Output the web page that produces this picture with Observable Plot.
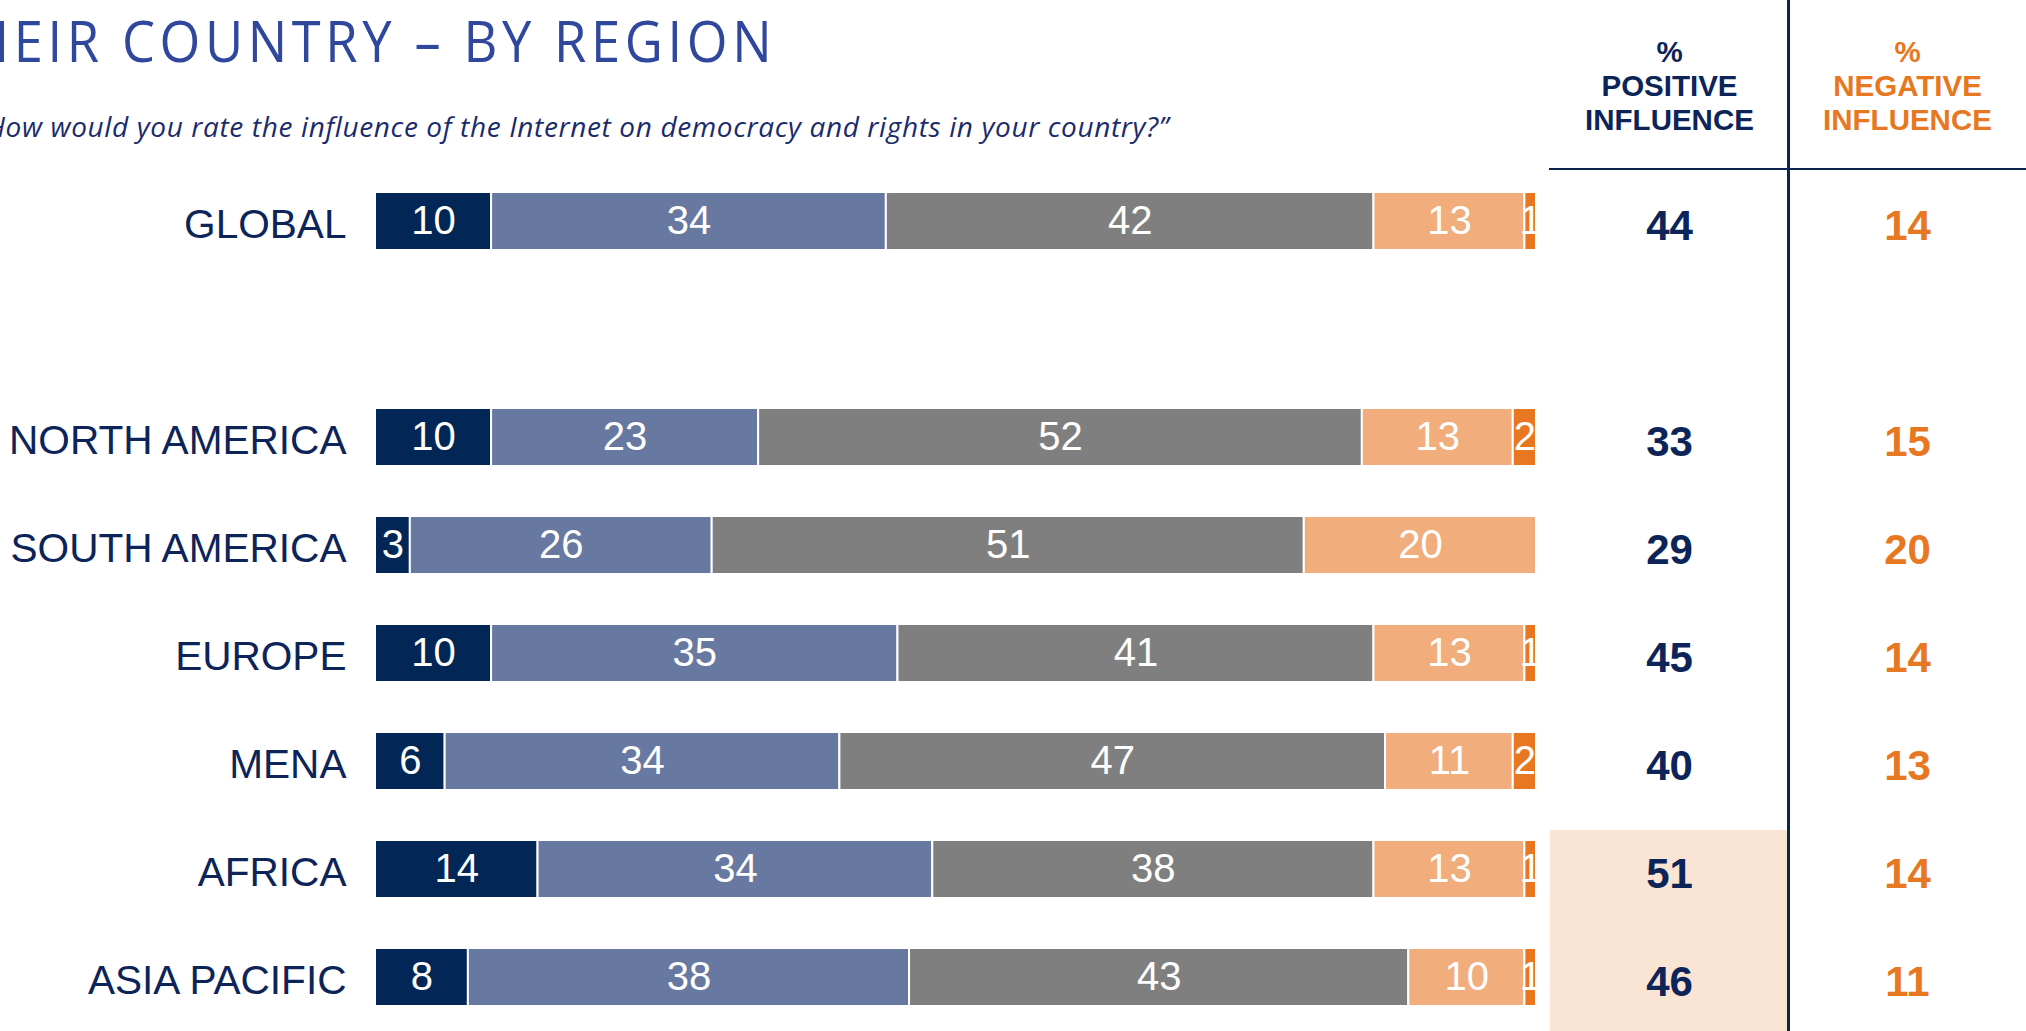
<!DOCTYPE html>
<html><head><meta charset="utf-8">
<script src="https://cdn.jsdelivr.net/npm/d3@7"></script>
<script src="https://cdn.jsdelivr.net/npm/@observablehq/plot@0.6"></script>
<style>
html,body{margin:0;padding:0;background:#fff;overflow:hidden}
#root{position:relative;width:2026px;height:1031px;overflow:hidden;background:#fff}
.abs{position:absolute}
#title{right:1250px;top:12px;font-family:"Open Sans",sans-serif;font-size:57px;line-height:57px;color:#2f479c;white-space:nowrap;letter-spacing:5.0px;transform:scaleX(0.92);transform-origin:100% 50%}
#subtitle{right:857px;top:112px;font-family:"Open Sans",sans-serif;font-style:italic;font-size:28px;line-height:28px;color:#1a2b6b;white-space:nowrap;letter-spacing:0.63px}
#hline{left:1549px;top:168px;width:477px;height:2px;background:#0d2350}
#vline{left:1787px;top:0;width:3px;height:1031px;background:#0d2350}
</style></head>
<body><div id="root">
<div id="title" class="abs">THEIR COUNTRY – BY REGION</div>
<div id="subtitle" class="abs">“How would you rate the influence of the Internet on democracy and rights in your country?”</div>
</div>
<script>
const regions = ["GLOBAL","NORTH AMERICA","SOUTH AMERICA","EUROPE","MENA","AFRICA","ASIA PACIFIC"];
const series = ["Very positive","Somewhat positive","No influence","Somewhat negative","Very negative"];
const veryPositive     = [10,10, 3,10, 6,14, 8];
const somewhatPositive = [34,23,26,35,34,34,38];
const noInfluence      = [42,52,51,41,47,38,43];
const somewhatNegative = [13,13,20,13,11,13,10];
const veryNegative     = [ 1, 2, 0, 1, 2, 1, 1];
const positiveTotal = [44,33,29,45,40,51,46];
const negativeTotal = [14,15,20,14,13,14,11];
const columns = ["pos","neg"];
const columnHeaders = ["%\nPOSITIVE\nINFLUENCE","%\nNEGATIVE\nINFLUENCE"];
const highlighted = ["AFRICA","ASIA PACIFIC"];

const colors = ["#022656","#6779a0","#7f7f7f","#f1ad7b","#e87722"];
const navy = "#0c2458";
const orange = "#e87722";
const font = "'Liberation Sans', Arial, sans-serif";

const seriesValues = [veryPositive, somewhatPositive, noInfluence, somewhatNegative, veryNegative];
const rows = [];
regions.forEach((r,i) => series.forEach((s,j) => {
  const v = seriesValues[j][i];
  if (v > 0) rows.push({region:r, series:s, value:v});
}));
const yDomain = [regions[0], " ", ...regions.slice(1)];

const bars = Plot.plot({
  width: 1549, height: 1031,
  marginLeft: 375, marginRight: 13, marginTop: 167, marginBottom: 0,
  style: {fontFamily: font, background: "transparent", overflow: "visible"},
  x: {domain: [0,100], axis: null},
  y: {domain: yDomain, range: [167,1031], paddingInner: 0.467, paddingOuter: 0.2335, axis: null},
  color: {domain: series, range: colors},
  marks: [
    Plot.barX(rows, Plot.stackX({x: "value", y: "region", fill: "series", stroke: "white", strokeWidth: 2})),
    Plot.text(rows, Plot.stackX({x: "value", y: "region", z: "series", text: d => String(d.value), fill: "white", fontSize: 40, clip: true})),
    Plot.axisY({tickSize: 0, tickPadding: 29, fontSize: 40.6, fill: navy, label: null, dy: 3, tickFormat: d => d.trim()})
  ]
});
bars.style.position = "absolute"; bars.style.left = "0px"; bars.style.top = "0px";

const tableRows = regions.map((r,i) => ({region:r, pos: positiveTotal[i], neg: negativeTotal[i]}));
const table = Plot.plot({
  width: 477, height: 1031,
  marginLeft: 0, marginRight: 0, marginTop: 0, marginBottom: 0,
  style: {fontFamily: font, background: "transparent", overflow: "visible"},
  x: {domain: columns, range: [0,477], padding: 0, axis: null},
  y: {domain: yDomain, range: [167,1031], padding: 0, axis: null},
  marks: [
    Plot.cell(highlighted.slice(0,1), {x: () => "pos", y: d => d, fill: "#fae4d4", insetTop: 15}),
    Plot.cell(highlighted.slice(1), {x: () => "pos", y: d => d, fill: "#fae4d4"}),
    Plot.text(tableRows, {x: () => "pos", y: "region", text: d => String(d.pos), fill: navy, fontSize: 42, fontWeight: "bold", dy: 5}),
    Plot.text(tableRows, {x: () => "neg", y: "region", text: d => String(d.neg), fill: orange, fontSize: 42, fontWeight: "bold", dy: 5}),
    Plot.text(columns, {x: d => d, text: (d,i) => columnHeaders[i], fill: (d,i) => i === 0 ? navy : orange,
      frameAnchor: "top", lineAnchor: "top", dy: 38, fontSize: 29.5, fontWeight: "bold", lineHeight: 1.14})
  ]
});
table.style.position = "absolute"; table.style.left = "1549px"; table.style.top = "0px";

const root = document.getElementById("root");
root.appendChild(table);
root.appendChild(bars);
const h = document.createElement("div"); h.id = "hline"; h.className = "abs"; root.appendChild(h);
const v = document.createElement("div"); v.id = "vline"; v.className = "abs"; root.appendChild(v);
</script>
</body></html>
